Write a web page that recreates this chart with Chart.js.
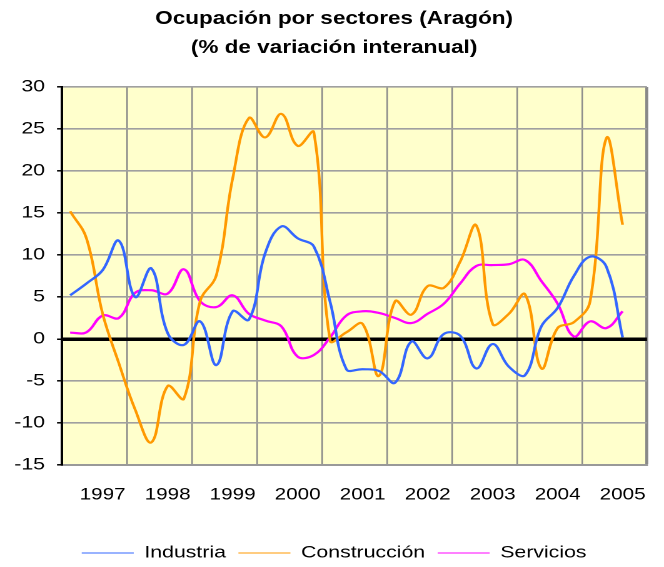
<!DOCTYPE html>
<html>
<head>
<meta charset="utf-8">
<script src="https://cdn.jsdelivr.net/npm/chart.js@4"></script>
<style>
  body { margin: 0; background: #fff; }
  /* the reference is stretched sideways, so the canvas is drawn narrow and widened */
  #chart { width: 664px; height: 567px; display: block; }
</style>
</head>
<body>
<canvas id="chart" width="531" height="567" style="width:664px;height:567px"></canvas>
<script>
// quarterly values, first quarter shown up to the last one (35 points)
const industria = [5.2, 6.6, 8.2, 11.7, 5.0, 8.4, 0.7, -0.7, 2.1, -3.1,
    3.3, 2.3, 10.2, 13.4, 12.0, 11.0, 4.4, -3.6, -3.6, -3.8,
    -5.2, -0.3, -2.3, 0.6, 0.4, -3.5, -0.6, -3.3, -4.3, 1.5,
    3.7, 7.5, 9.8, 8.6, 0.2];
const construccion = [15.2, 12.0, 3.0, -2.9, -8.4, -12.3, -5.6, -7.1, 4.5, 7.6,
    19.1, 26.3, 24.0, 26.8, 23.0, 24.6, -0.2, 0.8, 1.8, -4.4,
    4.5, 2.9, 6.3, 6.1, 9.2, 13.5, 1.8, 3.0, 5.3, -3.5,
    1.3, 2.0, 4.5, 23.9, 13.6];
const servicios = [0.75, 0.8, 2.8, 2.5, 5.5, 5.8, 5.4, 8.3, 4.5, 3.8,
    5.2, 3.0, 2.2, 1.5, -2.1, -1.9, 0.2, 2.8, 3.3, 3.1,
    2.5, 1.9, 3.0, 4.2, 6.6, 8.7, 8.8, 8.9, 9.4, 6.9,
    4.2, 0.3, 2.1, 1.3, 3.3];

const years = ['1997', '1998', '1999', '2000', '2001', '2002', '2003', '2004', '2005'];
const quartersPerYear = 4;

// 36 quarter slots, the year name sits under the third quarter
const labels = [];
for (let i = 0; i < years.length * quartersPerYear; i++) {
    labels.push(i % quartersPerYear === 2 ? years[(i - 2) / quartersPerYear] : '');
}

const fontFamily = "'Liberation Sans', Arial, sans-serif";

const plotBackground = {
    id: 'plotBackground',
    beforeDraw(chart) {
        const { ctx, chartArea: a } = chart;
        ctx.save();
        ctx.fillStyle = '#FFFFCC';
        ctx.fillRect(a.left, a.top, a.right - a.left, a.bottom - a.top);
        ctx.restore();
    }
};

const ctx = document.getElementById('chart').getContext('2d');
new Chart(ctx, {
    type: 'line',
    data: {
        labels: labels,
        datasets: [
            { label: 'Industria', data: industria, borderColor: '#3366FF' },
            { label: 'Construcción', data: construccion, borderColor: '#FF9900' },
            { label: 'Servicios', data: servicios, borderColor: '#FF00FF' }
        ]
    },
    options: {
        responsive: false,
        devicePixelRatio: 2,
        animation: false,
        layout: { padding: { left: 11.2, right: 7.8, top: 0, bottom: -4.5 } },
        elements: {
            line: { borderWidth: 2.2, tension: 0.4, fill: false },
            point: { radius: 0, hoverRadius: 0 }
        },
        scales: {
            x: {
                offset: true,
                grid: {
                    offset: true,
                    drawTicks: false,
                    // last line closes the plot on the right
                    lineWidth: c => c.type !== 'tick' ? 2.4 : 1.2,
                    color: c => (c.type !== 'tick' || c.index % 4 === 0) ? '#888888' : 'rgba(0,0,0,0)'
                },
                border: { color: '#999999', width: 2 },
                ticks: {
                    autoSkip: false,
                    maxRotation: 0,
                    padding: 20,
                    color: '#000',
                    font: { family: fontFamily, size: 16.5 }
                },
                afterFit: s => { s.height = 69.5; }
            },
            y: {
                min: -15,
                max: 30,
                grid: {
                    tickLength: 4,
                    tickColor: '#000',
                    tickWidth: 1.5,
                    lineWidth: c => c.tick && c.tick.value === 0 ? 3.5 : 1.6,
                    color: c => c.tick && c.tick.value === 0 ? '#000000' : '#A0A0A0'
                },
                border: { color: '#000', width: 2 },
                ticks: {
                    stepSize: 5,
                    padding: 9.6,
                    color: '#000',
                    font: { family: fontFamily, size: 17 }
                },
                afterFit: s => { s.width = 38.4; }
            }
        },
        plugins: {
            title: {
                display: true,
                text: ['Ocupación por sectores (Aragón)', '(% de variación interanual)'],
                color: '#000',
                font: { family: fontFamily, size: 18, weight: 'bold', lineHeight: 1.6 },
                padding: { top: 4.6, bottom: 24.8 }
            },
            legend: {
                position: 'bottom',
                labels: {
                    usePointStyle: true,
                    pointStyle: 'line',
                    pointStyleWidth: 41.6,
                    padding: 10,
                    color: '#000',
                    font: { family: fontFamily, size: 17 }
                }
            },
            tooltip: { enabled: false }
        }
    },
    plugins: [plotBackground]
});
</script>
</body>
</html>
